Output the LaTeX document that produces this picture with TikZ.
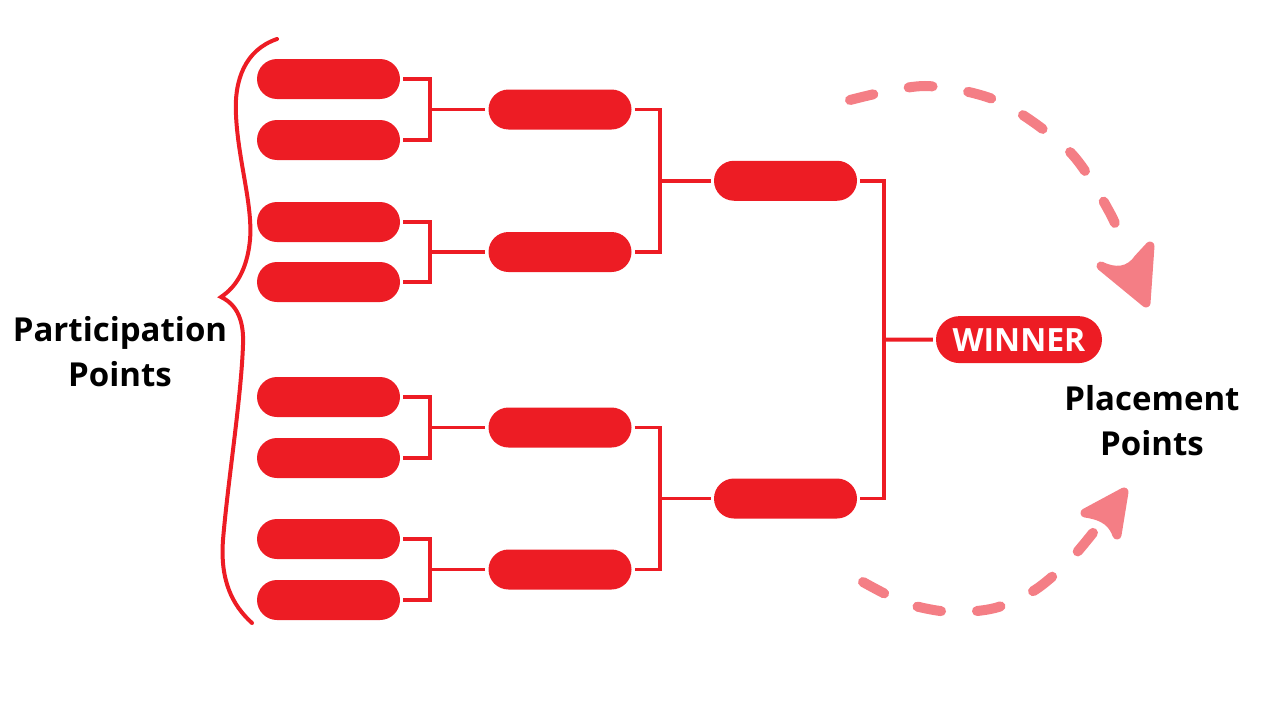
\documentclass[tikz,border=0pt]{standalone}
\usepackage{fontspec}
\setmainfont{Open Sans}
\usetikzlibrary{calc,shapes.misc}
\definecolor{bred}{HTML}{ED1C24}
\definecolor{bpink}{HTML}{F47E85}
\tikzset{
  pill/.style={rounded rectangle, fill=bred, inner sep=0pt,
    minimum width=143pt, minimum height=40pt},
  link/.style={bred, line width=3.8pt},
  dashline/.style={bpink, line width=10pt, line cap=round,
    dash pattern=on 24pt off 36pt},
  headfill/.style={fill=bpink, draw=bpink, line width=9pt, line join=round},
  label/.style={align=center, inner sep=0pt,
    font=\fontsize{33}{45}\selectfont\bfseries}
}
\begin{document}
\begin{tikzpicture}[x=1pt,y=-1pt]
  \useasboundingbox (0,0) rectangle (1280,720);

  % Rounds
  \foreach \y [count=\i] in {79,140,222,282,397,458,539,600}
    \node[pill] (a\i) at (328.5,\y) {};
  \foreach \y [count=\i] in {109.5,252,427.5,569.5}
    \node[pill] (b\i) at (560,\y) {};
  \node[pill] (c1) at (785.5,180.75) {};
  \node[pill] (c2) at (785.5,498.5) {};
  \node[pill, minimum width=166pt, minimum height=47pt, text=white,
    font=\fontsize{32}{36}\selectfont\bfseries] (win) at (1019,339.6) {WINNER};

  % Brackets
  \foreach \i/\j/\k in {1/2/1,3/4/2,5/6/3,7/8/4} {
    \coordinate (ja\k) at ($(a\i.east)!.5!(a\j.east)+(30,0)$);
    \draw[link] ([xshift=3pt]a\i.east) -| (ja\k) |- ([xshift=3pt]a\j.east);
    \draw[link] (ja\k) -- ([xshift=-3pt]b\k.west);
  }
  \foreach \i/\j/\k in {1/2/1,3/4/2} {
    \coordinate (jb\k) at ($(b\i.east)!.5!(b\j.east)+(28,0)$);
    \draw[link] ([xshift=3pt]b\i.east) -| (jb\k) |- ([xshift=3pt]b\j.east);
    \draw[link] (jb\k) -- ([xshift=-3pt]c\k.west);
  }
  \coordinate (jc) at ($(c1.east)!.5!(c2.east)+(27,0)$);
  \draw[link] ([xshift=3pt]c1.east) -| (jc) |- ([xshift=3pt]c2.east);
  \draw[link] (jc) -- ([xshift=-3pt]win.west);

  % Brace
  \draw[bred, line width=4pt, line cap=round]
    (277,39) .. controls (245,50) and (234,80) .. (236,115)
    .. controls (238,160) and (253,205) .. (250,240)
    .. controls (247,270) and (236,287) .. (221,297)
    .. controls (238,305) and (244,322) .. (243,345)
    .. controls (241,400) and (228,480) .. (223,540)
    .. controls (220,580) and (232,605) .. (252,623);

  % Labels
  \node[label] (part) at (120,352) {Participation\\Points};
  \node[label] (place) at (1152,421) {Placement\\Points};

  % Dashed arrows
  \draw[dashline] plot[smooth] coordinates
    {(850,100) (925,86) (1000,102) (1070,152) (1110,213) (1127,255)};
  \path[headfill] (1101,266)
    .. controls (1115,273) and (1129,272) .. (1138,259)
    -- (1150,246) -- (1146,303) -- cycle;
  \draw[dashline] plot[smooth] coordinates
    {(863,582) (905,603) (950,612) (995,608) (1035,590) (1070,560) (1100,524)};
  \path[headfill] (1085,513) -- (1124,492) -- (1117,535)
    .. controls (1113,524) and (1106,516) .. cycle;
\end{tikzpicture}
\end{document}
